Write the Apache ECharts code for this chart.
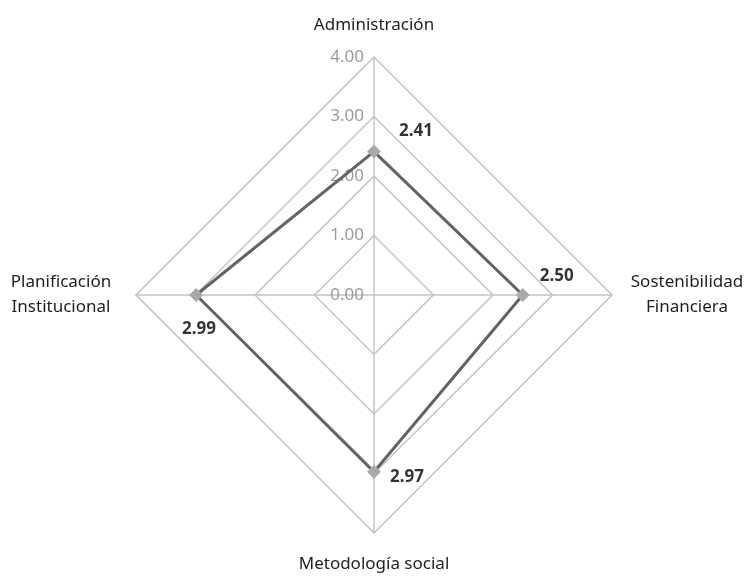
<!DOCTYPE html>
<html>
<head>
<meta charset="utf-8">
<script src="https://cdn.jsdelivr.net/npm/echarts@6/dist/echarts.min.js"></script>
<style>
  html, body { margin: 0; padding: 0; background: #ffffff; }
  #chart { width: 744px; height: 576px; }
</style>
</head>
<body>
<div id="chart"></div>
<script>
// Indicators in counter-clockwise order starting at the top
const indicatorNames = ['Administración', 'Planificación\nInstitucional', 'Metodología social', 'Sostenibilidad\nFinanciera'];
const scores = [2.41, 2.99, 2.97, 2.50];
// angle (degrees, counter-clockwise from top) of each indicator axis
const axisAngles = [0, 90, 180, 270];
// offset of each value label from its point
const labelOffsets = [[42, -20], [3, 34], [33, 5], [34, -19]];
const scaleMax = 4;

const CENTER = [374, 295];
const RADIUS = 238;
const FONT = '"Noto Sans", "Open Sans", sans-serif';

const chart = echarts.init(document.getElementById('chart'), null, { renderer: 'canvas' });

const indicators = indicatorNames.map(function (n, i) {
  const ind = { name: n, min: 0, max: scaleMax };
  if (i === 0) {
    ind.axisLabel = {
      show: true,
      color: '#9a9a9a',
      fontSize: 17,
      fontFamily: FONT,
      margin: 10,
      padding: [6, 0, 0, 0],
      formatter: function (v) { return Number(v).toFixed(2); }
    };
  }
  return ind;
});

chart.setOption({
  animation: false,
  backgroundColor: '#ffffff',
  radar: {
    center: CENTER,
    radius: RADIUS,
    startAngle: 90,
    shape: 'polygon',
    splitNumber: 4,
    indicator: indicators,
    nameGap: 19,
    axisName: {
      color: '#1e1e1e',
      fontSize: 17,
      fontFamily: FONT,
      lineHeight: 25,
      formatter: function (name) {
        return name.split('\n').map(function (s) { return '{c|' + s + '}'; }).join('\n');
      },
      rich: {
        c: { width: 112, align: 'center', color: '#1e1e1e', fontSize: 17, fontFamily: FONT, lineHeight: 25 }
      }
    },
    axisLabel: { show: false },
    axisTick: { show: false },
    axisLine: { lineStyle: { color: '#c4c4c4', width: 1.5 } },
    splitLine: { lineStyle: { color: '#c4c4c4', width: 1.5 } },
    splitArea: { show: false }
  },
  polar: { center: CENTER, radius: RADIUS },
  angleAxis: {
    type: 'value', min: 0, max: 360, startAngle: 90, clockwise: false,
    show: false
  },
  radiusAxis: {
    type: 'value', min: 0, max: scaleMax, show: false
  },
  series: [
    {
      type: 'radar',
      symbol: 'diamond',
      symbolSize: 14,
      lineStyle: { color: '#636363', width: 3 },
      itemStyle: { color: '#a9a9a9' },
      data: [{ value: scores }]
    },
    {
      type: 'scatter',
      coordinateSystem: 'polar',
      symbolSize: 1,
      itemStyle: { color: 'rgba(0,0,0,0)' },
      silent: true,
      z: 5,
      data: scores.map(function (v, i) {
        return {
          value: [v, axisAngles[i]],
          label: {
            show: true,
            position: 'inside',
            offset: labelOffsets[i],
            formatter: v.toFixed(2),
            color: '#000000',
            fontSize: 17,
            fontWeight: 'bold',
            fontFamily: FONT
          }
        };
      })
    }
  ]
});
</script>
</body>
</html>
